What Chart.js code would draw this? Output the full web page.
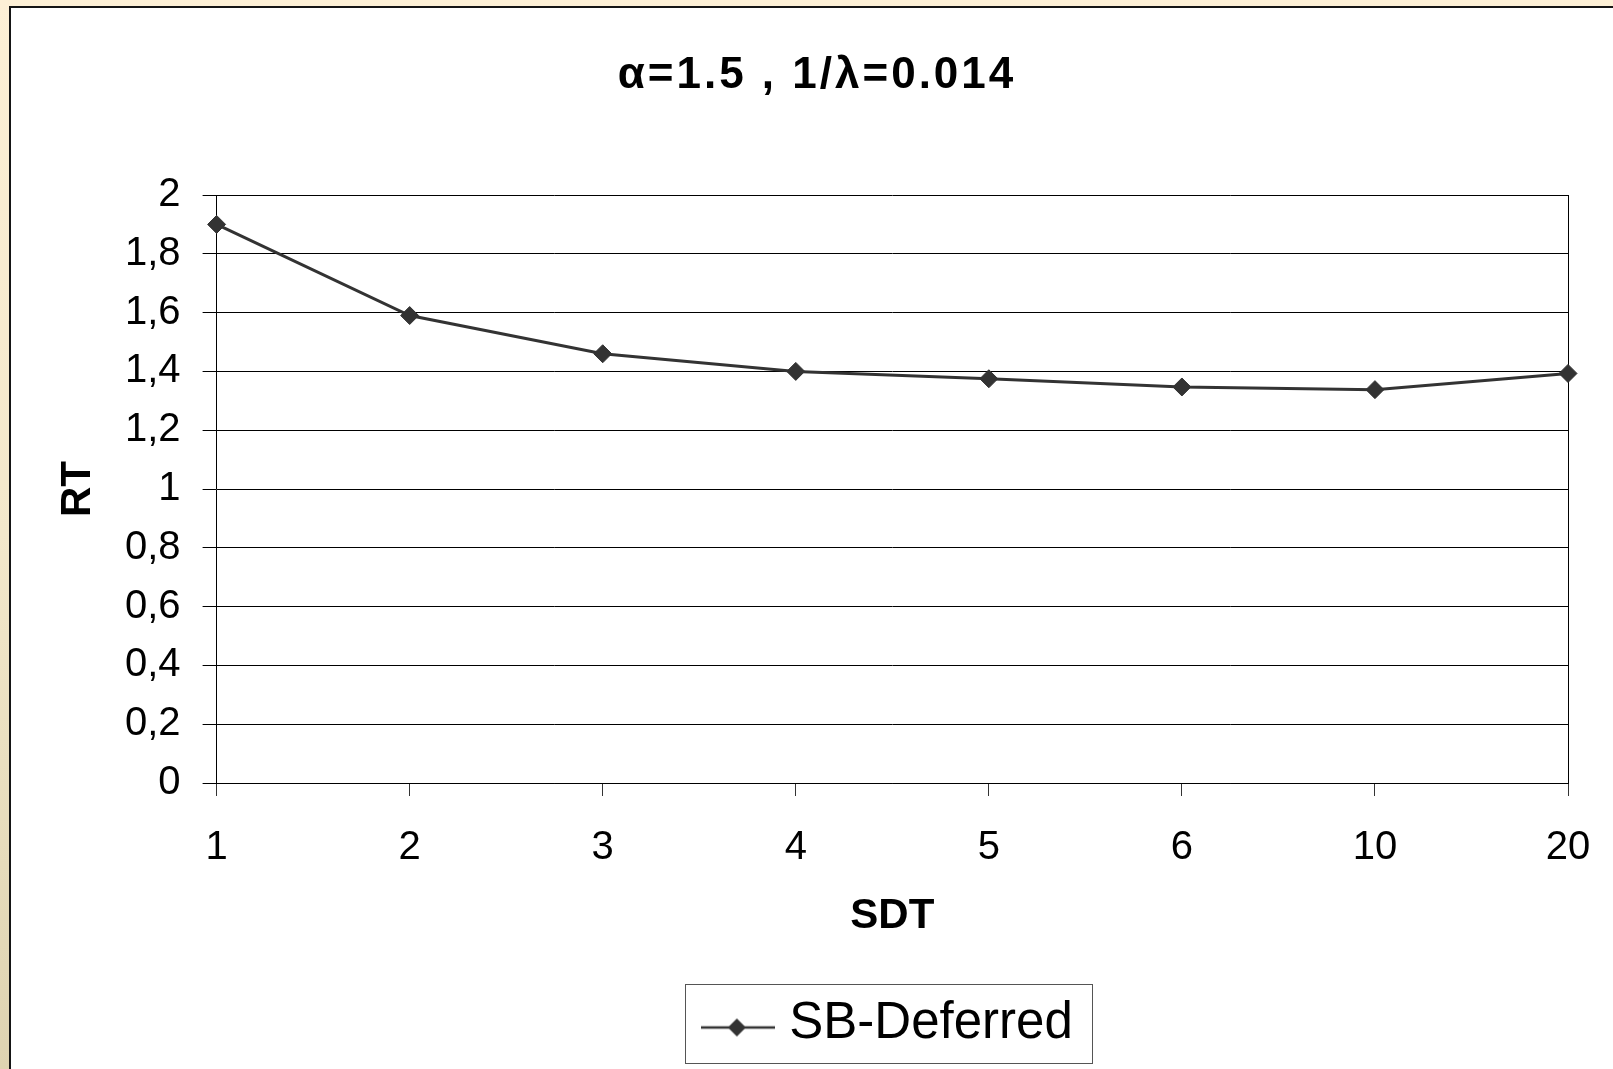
<!DOCTYPE html>
<html>
<head>
<meta charset="utf-8">
<script src="https://cdn.jsdelivr.net/npm/chart.js@4.4.0/dist/chart.umd.min.js"></script>
<style>
  html, body { margin: 0; padding: 0; }
  body {
    width: 1613px; height: 1069px; overflow: hidden; position: relative;
    background: linear-gradient(to bottom, #fdf0d6 0%, #f3e8cb 50%, #ded3b1 100%);
  }
  #sheet {
    position: absolute; left: 9px; top: 6px; width: 1660px; height: 1120px;
    background: #fff; border: 2px solid #151515;
  }
  #myChart { position: absolute; left: 0; top: 0; }
</style>
</head>
<body>
<div id="sheet"></div>
<canvas id="myChart" width="1613" height="1069"></canvas>
<script>
// data
const titleText = 'α=1.5 , 1/λ=0.014';
const sdtLabels = ['1', '2', '3', '4', '5', '6', '10', '20'];
const rtValues = [1.90, 1.59, 1.46, 1.40, 1.375, 1.347, 1.338, 1.393];
const yTickLabels = ['0', '0,2', '0,4', '0,6', '0,8', '1', '1,2', '1,4', '1,6', '1,8', '2'];
const seriesName = 'SB-Deferred';

const fontFamily = "'Liberation Sans', Arial, sans-serif";
Chart.defaults.font.family = fontFamily;
Chart.defaults.color = '#000';

// legend symbol: line with a diamond on it
function legendSymbol() {
    const c = document.createElement('canvas');
    c.width = 74;
    c.height = 36;
    const g = c.getContext('2d');
    g.strokeStyle = '#333';
    g.lineWidth = 2.5;
    g.beginPath();
    g.moveTo(0, 22);
    g.lineTo(74, 22);
    g.stroke();
    g.fillStyle = '#333';
    g.beginPath();
    g.moveTo(36, 13);
    g.lineTo(45, 22);
    g.lineTo(36, 31);
    g.lineTo(27, 22);
    g.closePath();
    g.fill();
    return c;
}

// title with wide letter spacing, and a box round the legend
const extras = {
    id: 'extras',
    afterDraw(chart) {
        const ctx = chart.ctx;
        ctx.save();
        ctx.font = 'bold 44px ' + fontFamily;
        ctx.fillStyle = '#000';
        ctx.textAlign = 'center';
        ctx.textBaseline = 'alphabetic';
        ctx.letterSpacing = '3px';
        ctx.fillText(titleText, 817, 88);
        ctx.restore();

        const hb = chart.legend.legendHitBoxes[0];
        if (hb) {
            ctx.save();
            ctx.strokeStyle = '#555';
            ctx.lineWidth = 1;
            ctx.strokeRect(Math.round(hb.left - 27) + 0.5, Math.round(hb.top - 14) + 0.5,
                Math.round(hb.width + 46), Math.round(hb.height + 28));
            ctx.restore();
        }
    }
};

function makeChart() {
    const ctx = document.getElementById('myChart').getContext('2d');
    const lastIndex = sdtLabels.length - 1;
    return new Chart(ctx, {
        type: 'line',
        data: {
            labels: sdtLabels,
            datasets: [{
                label: seriesName,
                data: rtValues,
                borderColor: '#333',
                backgroundColor: '#333',
                borderWidth: 3,
                pointStyle: 'rectRot',
                pointRadius: 9,
                pointBorderWidth: 1,
                pointBackgroundColor: '#333',
                pointBorderColor: '#333',
                tension: 0,
                clip: false
            }]
        },
        options: {
            responsive: false,
            animation: false,
            layout: { padding: { top: 195, left: 40, right: 45, bottom: 10 } },
            plugins: {
                title: { display: false },
                tooltip: { enabled: false },
                legend: {
                    position: 'bottom',
                    fullSize: false,
                    labels: {
                        usePointStyle: true,
                        pointStyle: legendSymbol(),
                        pointStyleWidth: 52,
                        boxWidth: 52,
                        padding: 10,
                        color: '#000',
                        font: { size: 51 }
                    }
                }
            },
            scales: {
                x: {
                    offset: false,
                    // the end labels fit inside the layout padding
                    afterFit: s => { s.paddingLeft = 0; s.paddingRight = 0; },
                    border: { display: true, color: '#000', width: 1 },
                    grid: {
                        drawOnChartArea: true,
                        color: c => c.index === lastIndex ? '#000' : 'rgba(0,0,0,0)',
                        tickColor: '#333',
                        tickLength: 13
                    },
                    ticks: { padding: 28, font: { size: 40 }, color: '#000', maxRotation: 0 },
                    title: {
                        display: true,
                        text: 'SDT',
                        font: { size: 42, weight: 'bold', lineHeight: 1 },
                        padding: { top: -5, bottom: 51 }
                    }
                },
                y: {
                    min: 0,
                    max: 2,
                    border: { display: true, color: '#000', width: 1 },
                    grid: { color: '#000', tickLength: 14, lineWidth: 1 },
                    ticks: {
                        stepSize: 0.2,
                        padding: 22,
                        font: { size: 40 },
                        color: '#000',
                        callback: (v, i) => yTickLabels[i]
                    },
                    title: {
                        display: true,
                        text: 'RT',
                        font: { size: 42, weight: 'bold', lineHeight: 1 },
                        padding: { top: 17, bottom: 4 }
                    }
                }
            }
        },
        plugins: [extras]
    });
}

makeChart();
</script>
</body>
</html>
